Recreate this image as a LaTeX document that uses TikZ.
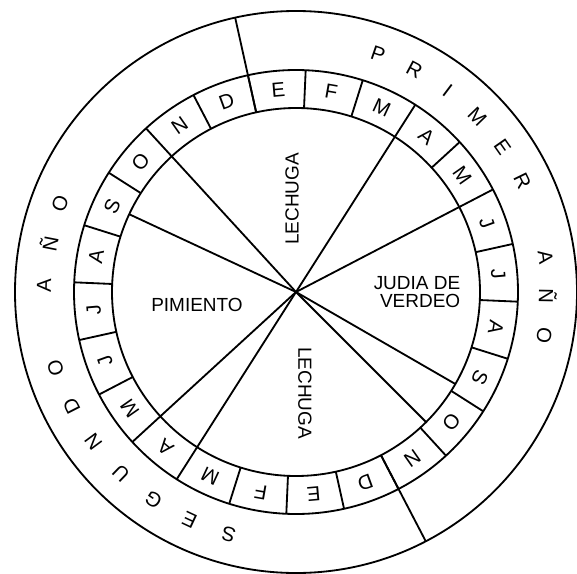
\documentclass[tikz,border=0pt]{standalone}
\usepackage{fontspec}
\setmainfont{Liberation Sans}
\usetikzlibrary{positioning}

\begin{document}
\begin{tikzpicture}[
    x=0.025cm, y=0.025cm,
    line width=1.3pt,
    font=\fontsize{13.5}{12.8}\selectfont,
    mes/.style={inner sep=0pt, font=\fontsize{14.5}{14}\selectfont},
    letra/.style={inner sep=0pt, font=\fontsize{14.5}{14}\selectfont},
    cultivo/.style={inner sep=0pt, align=center}
]
    \useasboundingbox (-296,-281) rectangle (281,292);
    \coordinate (c) at (0,0);

    % anillos
    \draw (c) circle (184);
    \draw (c) circle (222);
    \draw (c) circle (281);

    % meses, dos años
    \foreach \m [count=\i from 0, evaluate=\i as \ang using 95-15*\i] in {E,F,M,A,M,J,J,A,S,O,N,D,E,F,M,A,M,J,J,A,S,O,N,D} {
        \node[mes, rotate=\ang-90] (m\i) at (\ang:203) {\m};
        \draw ({\ang+7.5}:184) -- ({\ang+7.5}:222);
    }

    % separación de los años
    \draw (102.5:184) -- (102.5:281);
    \draw (-62.5:184) -- (-62.5:281);

    % sectores de cultivo
    \foreach \a in {57.5,27.5,-30,-45,222.5,237.5,132.5,155} {
        \draw (c) -- (\a:184);
    }

    \foreach \l/\a in {P/71,R/62,I/53,M/44,E/35,R/26,A/8,Ñ/-1,O/-10} {
        \node[letra, rotate=\a-90] at (\a:252) {\l};
    }
    \foreach \l/\a in {S/254.5,E/245,G/235.5,U/226,N/216.5,D/207,O/197.5,A/178.5,Ñ/169,O/159.5} {
        \node[letra, rotate=\a-90] at (\a:252) {\l};
    }

    \node[cultivo, rotate=90] (lechuga1) at (-4,93) {LECHUGA};
    \node[cultivo, align=right] (judia) at (121,0) {JUDIA DE\\VERDEO};
    \node[cultivo] (pimiento) at (-99,-13) {PIMIENTO};
    \node[cultivo, rotate=-90] (lechuga2) at (9,-101) {LECHUGA};
\end{tikzpicture}
\end{document}
